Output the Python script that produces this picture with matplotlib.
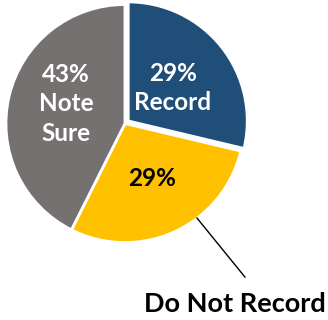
import matplotlib.pyplot as plt

labels = ['Record', 'Do Not Record', 'Note Sure']
values = [29, 29, 43]
colors = ['#1F4E79', '#FFC000', '#767171']

plt.rcParams['font.family'] = ['Lato', 'DejaVu Sans']

fig = plt.figure(figsize=(3.28, 3.20), dpi=100)
ax = fig.add_axes([0, 0, 1, 1])

wedges, _ = ax.pie(values, colors=colors, startangle=90, counterclock=False,
                   explode=[0.035, 0, 0],
                   wedgeprops=dict(edgecolor='white', linewidth=2))

# in-slice labels
ax.text(0.403, 0.30, '%d%%\n%s' % (values[0], labels[0]), color='white',
        fontsize=17.5, fontweight='bold', ha='center', va='center', linespacing=1.3)
ax.text(-0.496, 0.165, '%d%%\n%s' % (values[2], labels[2].replace(' ', '\n')),
        color='white', fontsize=17.5, fontweight='bold', ha='center', va='center',
        linespacing=1.35)
ax.text(0.227, -0.466, '%d%%' % values[1], color='black',
        fontsize=17.5, fontweight='bold', ha='center', va='center')

# outside label with leader line
ax.plot([0.605, 1.008], [-0.794, -1.290], color='black', lw=1)
ax.text(0.924, -1.517, labels[1], fontsize=19.5, fontweight='bold',
        ha='center', va='center')

ax.set_xlim(-1.050, 1.706)
ax.set_ylim(-1.651, 1.038)
ax.axis('off')

fig.savefig('out.png', dpi=100)
